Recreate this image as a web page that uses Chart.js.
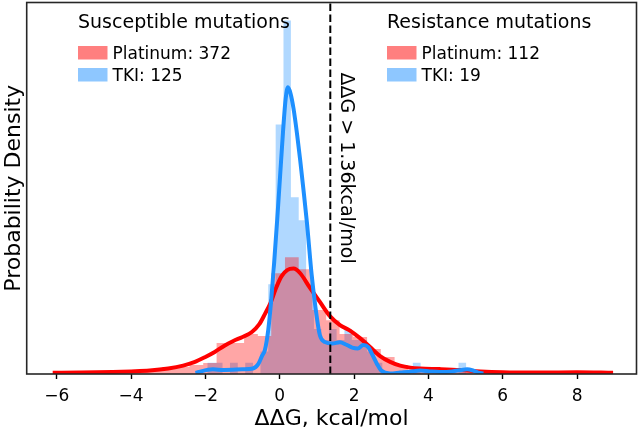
<!DOCTYPE html>
<html>
<head>
  <title>ΔΔG distributions: Platinum vs TKI</title>
  <style>
    body { margin: 0; background: #fff; }
    canvas { display: block; }
  </style>
</head>
<body>

  <canvas id="ddgChart" width="640" height="428"></canvas>

  <script src="https://cdn.jsdelivr.net/npm/chart.js"></script>
  <script>
    // histogram bins (kcal/mol) and bar heights (probability density)
    const platinumEdges = [-6.11, -5.74, -5.37, -5.01, -4.64, -4.27, -3.90, -3.54, -3.17, -2.80,
      -2.43, -2.06, -1.70, -1.33, -0.96, -0.59, -0.23, 0.14, 0.51, 0.88,
      1.25, 1.61, 1.98, 2.35, 2.72, 3.09, 3.45, 3.82, 4.19, 4.56,
      4.92, 5.29, 5.66, 6.03, 6.40, 6.76, 7.13, 7.50, 7.87, 8.23, 8.60, 8.97];
    const platinumHist = [0.007, 0, 0.007, 0, 0.007, 0.007, 0.007, 0.014, 0.024, 0.024,
      0.031, 0.038, 0.107, 0.107, 0.138, 0.131, 0.348, 0.403, 0.362, 0.221,
      0.186, 0.138, 0.128, 0.086, 0.059, 0.031, 0.014, 0.021, 0.014, 0.007,
      0.007, 0.007, 0, 0.007, 0, 0, 0, 0, 0.007, 0, 0.007];

    const tkiEdges = [-1.95, -1.75, -1.54, -1.34, -1.13, -0.93, -0.72, -0.52, -0.31, -0.11,
      0.10, 0.30, 0.51, 0.71, 0.92, 1.12, 1.33, 1.53, 1.74, 1.94,
      2.15, 2.35, 2.56, 2.76, 2.97, 3.17, 3.38, 3.58, 3.79, 3.99,
      4.20, 4.40, 4.61, 4.81, 5.02];
    const tkiHist = [0.039, 0.039, 0, 0.039, 0, 0.039, 0, 0.078, 0.310, 0.862,
      1.221, 0.610, 0.531, 0.310, 0.155, 0.117, 0.155, 0.117, 0.155, 0.117,
      0.117, 0.078, 0.039, 0, 0, 0, 0, 0.039, 0, 0,
      0, 0, 0, 0.039];

    // kernel density curves
    const platinumKdeX = [-6.11, -5.4, -4.5, -4.0, -3.5, -3.0, -2.6, -2.3, -2.0, -1.75,
      -1.5, -1.25, -1.0, -0.75, -0.55, -0.4, -0.25, -0.1, 0.05, 0.2,
      0.37, 0.55, 0.8, 1.08, 1.35, 1.62, 1.89, 2.16, 2.43, 2.7,
      2.97, 3.24, 3.51, 3.78, 4.3, 4.85, 5.4, 6.0, 7.0, 8.0, 8.97];
    const platinumKdeY = [0.004, 0.005, 0.007, 0.009, 0.012, 0.019, 0.029, 0.041, 0.059, 0.076,
      0.097, 0.114, 0.128, 0.145, 0.172, 0.207, 0.245, 0.297, 0.338, 0.359,
      0.364, 0.348, 0.300, 0.249, 0.200, 0.169, 0.150, 0.124, 0.093, 0.062,
      0.042, 0.029, 0.022, 0.019, 0.017, 0.014, 0.009, 0.006, 0.005, 0.006, 0.004];

    const tkiKdeX = [-2.27, -1.8, -1.5, -1.0, -0.72, -0.58, -0.48, -0.40, -0.31, -0.23,
      -0.15, -0.07, 0.01, 0.09, 0.16, 0.22, 0.29, 0.37, 0.47, 0.55,
      0.64, 0.73, 0.86, 1.0, 1.08, 1.22, 1.41, 1.62, 1.78, 1.95,
      2.1, 2.25, 2.38, 2.51, 2.62, 2.73, 2.97, 3.24, 3.51, 3.78,
      4.04, 4.31, 4.64, 4.9, 5.04, 5.2, 5.34, 5.48];
    const tkiKdeY = [0.004, 0.016, 0.014, 0.016, 0.019, 0.034, 0.062, 0.083, 0.152, 0.255,
      0.386, 0.531, 0.686, 0.841, 0.952, 0.990, 0.969, 0.917, 0.824, 0.738,
      0.634, 0.524, 0.341, 0.193, 0.134, 0.110, 0.105, 0.110, 0.102, 0.091,
      0.088, 0.100, 0.093, 0.062, 0.034, 0.012, 0.002, 0.005, 0.008, 0.012,
      0.009, 0.007, 0.009, 0.014, 0.016, 0.012, 0.005, 0.002];

    const xTicks = [-6, -4, -2, 0, 2, 4, 6, 8];
    const threshold = 1.36;

    const groupTitles = ['Susceptible mutations', 'Resistance mutations'];
    const seriesNames = ['Platinum', 'TKI'];
    const susceptibleCounts = [372, 125];
    const resistanceCounts = [112, 19];

    const xMin = -6.81, xMax = 9.60;
    const yMax = 1.283;
    const FONT = '"DejaVu Sans", Verdana, sans-serif';

    function histPoints(edges, heights) {
      const pts = [{ x: edges[0], y: 0 }];
      heights.forEach((h, i) => pts.push({ x: edges[i], y: h }));
      pts.push({ x: edges[edges.length - 1], y: 0 });
      return pts;
    }

    function curvePoints(xs, ys) {
      return xs.map((x, i) => ({ x: x, y: ys[i] }));
    }

    function minusSign(v) {
      return v < 0 ? '\u2212' + Math.abs(v) : String(v);
    }

    // frame, axis titles, threshold label and the two legend groups
    const decorations = {
      id: 'decorations',
      afterDatasetsDraw(chart) {
        const { ctx, chartArea: a } = chart;
        ctx.save();
        ctx.strokeStyle = '#262626';
        ctx.lineWidth = 1.6;
        ctx.strokeRect(a.left, a.top, a.right - a.left, a.bottom - a.top);
        ctx.restore();
      },
      afterDraw(chart) {
        const { ctx, chartArea: a } = chart;
        const xs = chart.scales.x;
        ctx.save();
        ctx.fillStyle = '#000';

        // axis titles
        ctx.font = '22px ' + FONT;
        ctx.textAlign = 'center';
        ctx.textBaseline = 'alphabetic';
        ctx.fillText('ΔΔG, kcal/mol', (a.left + a.right) / 2, 425);
        ctx.save();
        ctx.translate(19.5, (a.top + a.bottom) / 2);
        ctx.rotate(-Math.PI / 2);
        ctx.fillText('Probability Density', 0, 0);
        ctx.restore();

        // vertical label next to the dashed threshold line
        ctx.save();
        ctx.font = '19px ' + FONT;
        ctx.translate(xs.getPixelForValue(threshold) + 10.5, a.top + 70);
        ctx.rotate(Math.PI / 2);
        ctx.textAlign = 'left';
        ctx.fillText('ΔΔG > ' + threshold + 'kcal/mol', 0, 0);
        ctx.restore();

        // legends
        const patchColors = ['rgba(255,0,0,0.5)', 'rgba(30,144,255,0.5)'];
        const groups = [
          { x: 78, title: groupTitles[0], counts: susceptibleCounts },
          { x: 387, title: groupTitles[1], counts: resistanceCounts }
        ];
        ctx.textAlign = 'left';
        groups.forEach(g => {
          ctx.font = '19px ' + FONT;
          ctx.fillStyle = '#000';
          ctx.fillText(g.title, g.x, 28.3);
          seriesNames.forEach((name, i) => {
            const top = 46 + i * 22;
            ctx.fillStyle = patchColors[i];
            ctx.fillRect(g.x, top, 29.5, 13.5);
            ctx.fillStyle = '#000';
            ctx.font = '17px ' + FONT;
            ctx.fillText(name + ': ' + g.counts[i], g.x + 34.5, top + 12.5);
          });
        });
        ctx.restore();
      }
    };

    const ctx = document.getElementById('ddgChart').getContext('2d');
    new Chart(ctx, {
      type: 'line',
      data: {
        datasets: [
          {
            label: 'threshold',
            data: [{ x: threshold, y: 0 }, { x: threshold, y: yMax }],
            borderColor: '#000',
            borderWidth: 2,
            borderDash: [7.5, 3.5],
            pointRadius: 0,
            fill: false
          },
          {
            label: 'TKI KDE',
            data: curvePoints(tkiKdeX, tkiKdeY),
            borderColor: '#1e90ff',
            borderWidth: 4,
            borderJoinStyle: 'round',
            cubicInterpolationMode: 'monotone',
            pointRadius: 0,
            fill: false
          },
          {
            label: 'Platinum KDE',
            data: curvePoints(platinumKdeX, platinumKdeY),
            borderColor: '#ff0000',
            borderWidth: 4,
            borderJoinStyle: 'round',
            cubicInterpolationMode: 'monotone',
            pointRadius: 0,
            fill: false
          },
          {
            label: 'Platinum',
            data: histPoints(platinumEdges, platinumHist),
            stepped: true,
            fill: 'origin',
            backgroundColor: 'rgba(255,0,0,0.35)',
            borderColor: 'rgba(0,0,0,0)',
            borderWidth: 0,
            pointRadius: 0
          },
          {
            label: 'TKI',
            data: histPoints(tkiEdges, tkiHist),
            stepped: true,
            fill: 'origin',
            backgroundColor: 'rgba(30,144,255,0.35)',
            borderColor: 'rgba(0,0,0,0)',
            borderWidth: 0,
            pointRadius: 0
          }
        ]
      },
      options: {
        responsive: false,
        animation: false,
        devicePixelRatio: 1,
        layout: { padding: { left: 26.7, right: 3.5, top: 2.5, bottom: 14.6 } },
        plugins: {
          legend: { display: false },
          tooltip: { enabled: false }
        },
        scales: {
          x: {
            type: 'linear',
            min: xMin,
            max: xMax,
            afterBuildTicks: axis => { axis.ticks = xTicks.map(v => ({ value: v })); },
            ticks: {
              color: '#000',
              padding: 7,
              font: { family: FONT, size: 17 },
              callback: v => minusSign(v)
            },
            grid: {
              drawOnChartArea: false,
              drawTicks: true,
              tickLength: 5,
              tickColor: '#000',
              tickWidth: 1.4
            },
            border: { display: false }
          },
          y: { display: false, min: 0, max: yMax }
        }
      },
      plugins: [decorations]
    });
  </script>

</body>
</html>
